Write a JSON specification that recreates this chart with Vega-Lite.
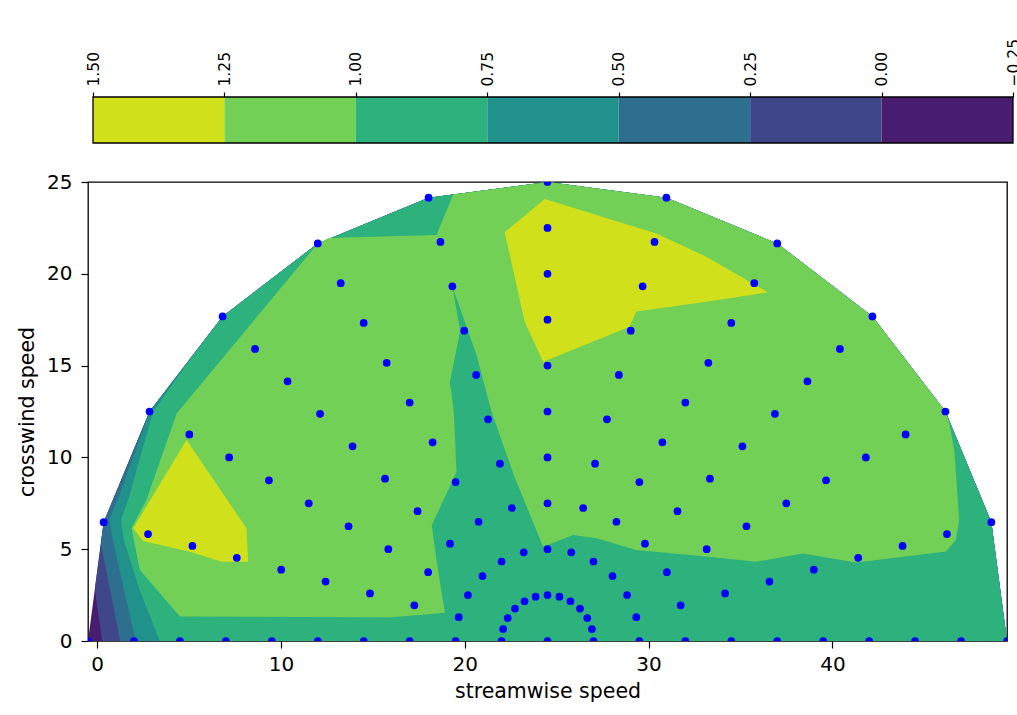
{
  "$schema": "https://vega.github.io/schema/vega-lite/v6.json",
  "padding": {"top": 38, "left": 16, "right": 0, "bottom": 0},
  "spacing": 27,
  "config": {
    "view": {"stroke": null},
    "font": "DejaVu Sans",
    "axis": {"labelFont": "DejaVu Sans", "titleFont": "DejaVu Sans", "labelColor": "black", "titleColor": "black", "tickColor": "black", "domainColor": "black", "titleFontWeight": "normal", "grid": false, "labelFlush": false, "labelOverlap": false}
  },
  "datasets": {
    "cbar": [
      {"lo": 1.25, "hi": 1.5}, {"lo": 1.0, "hi": 1.25}, {"lo": 0.75, "hi": 1.0}, {"lo": 0.5, "hi": 0.75},
      {"lo": 0.25, "hi": 0.5}, {"lo": 0.0, "hi": 0.25}, {"lo": -0.25, "hi": 0.0}
    ],
    "poly": [
      {"l": -0.25, "p": "a", "i": 0, "x": 49.5, "y": 0}, {"l": -0.25, "p": "a", "i": 1, "x": 48.648, "y": 6.47}, {"l": -0.25, "p": "a", "i": 2, "x": 46.151, "y": 12.5}, {"l": -0.25, "p": "a", "i": 3, "x": 42.178, "y": 17.678}, {"l": -0.25, "p": "a", "i": 4, "x": 37, "y": 21.651}, {"l": -0.25, "p": "a", "i": 5, "x": 30.97, "y": 24.148}, {"l": -0.25, "p": "a", "i": 6, "x": 24.5, "y": 25}, {"l": -0.25, "p": "a", "i": 7, "x": 18.03, "y": 24.148}, {"l": -0.25, "p": "a", "i": 8, "x": 12, "y": 21.651}, {"l": -0.25, "p": "a", "i": 9, "x": 6.822, "y": 17.678}, {"l": -0.25, "p": "a", "i": 10, "x": 2.849, "y": 12.5}, {"l": -0.25, "p": "a", "i": 11, "x": 0.352, "y": 6.47}, {"l": -0.25, "p": "a", "i": 12, "x": -0.5, "y": 0},

      {"l": 0, "p": "a", "i": 0, "x": 0.27, "y": 0}, {"l": 0, "p": "a", "i": 1, "x": 49.5, "y": 0}, {"l": 0, "p": "a", "i": 2, "x": 48.648, "y": 6.47}, {"l": 0, "p": "a", "i": 3, "x": 46.151, "y": 12.5}, {"l": 0, "p": "a", "i": 4, "x": 42.178, "y": 17.678}, {"l": 0, "p": "a", "i": 5, "x": 37, "y": 21.651}, {"l": 0, "p": "a", "i": 6, "x": 30.97, "y": 24.148}, {"l": 0, "p": "a", "i": 7, "x": 24.5, "y": 25}, {"l": 0, "p": "a", "i": 8, "x": 18.03, "y": 24.148}, {"l": 0, "p": "a", "i": 9, "x": 12, "y": 21.651}, {"l": 0, "p": "a", "i": 10, "x": 6.822, "y": 17.678}, {"l": 0, "p": "a", "i": 11, "x": 2.849, "y": 12.5}, {"l": 0, "p": "a", "i": 12, "x": 0.352, "y": 6.47}, {"l": 0, "p": "a", "i": 13, "x": -0.13, "y": 2.8},

      {"l": 0.25, "p": "a", "i": 0, "x": 1.25, "y": 0}, {"l": 0.25, "p": "a", "i": 1, "x": 49.5, "y": 0}, {"l": 0.25, "p": "a", "i": 2, "x": 48.648, "y": 6.47}, {"l": 0.25, "p": "a", "i": 3, "x": 46.151, "y": 12.5}, {"l": 0.25, "p": "a", "i": 4, "x": 42.178, "y": 17.678}, {"l": 0.25, "p": "a", "i": 5, "x": 37, "y": 21.651}, {"l": 0.25, "p": "a", "i": 6, "x": 30.97, "y": 24.148}, {"l": 0.25, "p": "a", "i": 7, "x": 24.5, "y": 25}, {"l": 0.25, "p": "a", "i": 8, "x": 18.03, "y": 24.148}, {"l": 0.25, "p": "a", "i": 9, "x": 12, "y": 21.651}, {"l": 0.25, "p": "a", "i": 10, "x": 6.822, "y": 17.678}, {"l": 0.25, "p": "a", "i": 11, "x": 2.849, "y": 12.5}, {"l": 0.25, "p": "a", "i": 12, "x": 0.352, "y": 6.47}, {"l": 0.25, "p": "a", "i": 13, "x": 0.2, "y": 5.3}, {"l": 0.25, "p": "a", "i": 14, "x": 0.7, "y": 2.8},

      {"l": 0.5, "p": "a", "i": 0, "x": 2.1, "y": 0}, {"l": 0.5, "p": "a", "i": 1, "x": 49.5, "y": 0}, {"l": 0.5, "p": "a", "i": 2, "x": 48.648, "y": 6.47}, {"l": 0.5, "p": "a", "i": 3, "x": 46.151, "y": 12.5}, {"l": 0.5, "p": "a", "i": 4, "x": 42.178, "y": 17.678}, {"l": 0.5, "p": "a", "i": 5, "x": 37, "y": 21.651}, {"l": 0.5, "p": "a", "i": 6, "x": 30.97, "y": 24.148}, {"l": 0.5, "p": "a", "i": 7, "x": 24.5, "y": 25}, {"l": 0.5, "p": "a", "i": 8, "x": 18.03, "y": 24.148}, {"l": 0.5, "p": "a", "i": 9, "x": 12, "y": 21.651}, {"l": 0.5, "p": "a", "i": 10, "x": 6.822, "y": 17.678}, {"l": 0.5, "p": "a", "i": 11, "x": 2.849, "y": 12.5}, {"l": 0.5, "p": "a", "i": 12, "x": 1.1, "y": 7.7}, {"l": 0.5, "p": "a", "i": 13, "x": 0.65, "y": 6.6}, {"l": 0.5, "p": "a", "i": 14, "x": 0.85, "y": 5.5}, {"l": 0.5, "p": "a", "i": 15, "x": 1.45, "y": 2.8},

      {"l": 0.75, "p": "a", "i": 0, "x": 3.4, "y": 0}, {"l": 0.75, "p": "a", "i": 1, "x": 49.5, "y": 0}, {"l": 0.75, "p": "a", "i": 2, "x": 48.648, "y": 6.47}, {"l": 0.75, "p": "a", "i": 3, "x": 46.151, "y": 12.5}, {"l": 0.75, "p": "a", "i": 4, "x": 42.178, "y": 17.678}, {"l": 0.75, "p": "a", "i": 5, "x": 37, "y": 21.651}, {"l": 0.75, "p": "a", "i": 6, "x": 30.97, "y": 24.148}, {"l": 0.75, "p": "a", "i": 7, "x": 24.5, "y": 25}, {"l": 0.75, "p": "a", "i": 8, "x": 18.03, "y": 24.148}, {"l": 0.75, "p": "a", "i": 9, "x": 12, "y": 21.651}, {"l": 0.75, "p": "a", "i": 10, "x": 6.822, "y": 17.678}, {"l": 0.75, "p": "a", "i": 11, "x": 4.77, "y": 14.94}, {"l": 0.75, "p": "a", "i": 12, "x": 3.04, "y": 12.49}, {"l": 0.75, "p": "a", "i": 13, "x": 1.68, "y": 7.68}, {"l": 0.75, "p": "a", "i": 14, "x": 1.3, "y": 6.6}, {"l": 0.75, "p": "a", "i": 15, "x": 1.45, "y": 5.5}, {"l": 0.75, "p": "a", "i": 16, "x": 2.3, "y": 2.8},

      {"l": 1, "p": "a", "i": 0, "x": 12, "y": 21.651}, {"l": 1, "p": "a", "i": 1, "x": 12.6, "y": 21.95}, {"l": 1, "p": "a", "i": 2, "x": 18.46, "y": 22.11}, {"l": 1, "p": "a", "i": 3, "x": 19.37, "y": 24.324}, {"l": 1, "p": "a", "i": 4, "x": 24.5, "y": 25}, {"l": 1, "p": "a", "i": 5, "x": 30.97, "y": 24.148}, {"l": 1, "p": "a", "i": 6, "x": 37, "y": 21.651}, {"l": 1, "p": "a", "i": 7, "x": 42.178, "y": 17.678}, {"l": 1, "p": "a", "i": 8, "x": 46.151, "y": 12.5}, {"l": 1, "p": "a", "i": 9, "x": 46.36, "y": 11.86}, {"l": 1, "p": "a", "i": 10, "x": 46.63, "y": 10.4}, {"l": 1, "p": "a", "i": 11, "x": 46.9, "y": 6.6}, {"l": 1, "p": "a", "i": 12, "x": 46.72, "y": 5.5}, {"l": 1, "p": "a", "i": 13, "x": 46.18, "y": 4.87}, {"l": 1, "p": "a", "i": 14, "x": 41.29, "y": 4.27}, {"l": 1, "p": "a", "i": 15, "x": 38.39, "y": 4.77}, {"l": 1, "p": "a", "i": 16, "x": 35.85, "y": 4.32}, {"l": 1, "p": "a", "i": 17, "x": 33.14, "y": 4.6}, {"l": 1, "p": "a", "i": 18, "x": 29.33, "y": 4.96}, {"l": 1, "p": "a", "i": 19, "x": 27.16, "y": 5.59}, {"l": 1, "p": "a", "i": 20, "x": 25.89, "y": 5.77}, {"l": 1, "p": "a", "i": 21, "x": 24.26, "y": 5.14}, {"l": 1, "p": "a", "i": 22, "x": 22.7, "y": 8.95}, {"l": 1, "p": "a", "i": 23, "x": 21.45, "y": 12.5}, {"l": 1, "p": "a", "i": 24, "x": 20.64, "y": 15.58}, {"l": 1, "p": "a", "i": 25, "x": 19.32, "y": 19.32}, {"l": 1, "p": "a", "i": 26, "x": 19.75, "y": 16.9}, {"l": 1, "p": "a", "i": 27, "x": 19.19, "y": 14.12}, {"l": 1, "p": "a", "i": 28, "x": 19.4, "y": 12.5}, {"l": 1, "p": "a", "i": 29, "x": 19.55, "y": 9.2}, {"l": 1, "p": "a", "i": 30, "x": 18.2, "y": 6.3}, {"l": 1, "p": "a", "i": 31, "x": 18.46, "y": 4.41}, {"l": 1, "p": "a", "i": 32, "x": 18.91, "y": 1.54}, {"l": 1, "p": "a", "i": 33, "x": 16, "y": 1.3}, {"l": 1, "p": "a", "i": 34, "x": 4.5, "y": 1.33}, {"l": 1, "p": "a", "i": 35, "x": 2.32, "y": 3.87}, {"l": 1, "p": "a", "i": 36, "x": 1.87, "y": 6.14}, {"l": 1, "p": "a", "i": 37, "x": 2.68, "y": 7.68}, {"l": 1, "p": "a", "i": 38, "x": 4.33, "y": 12.4},

      {"l": 1.25, "p": "a", "i": 0, "x": 4.86, "y": 10.95}, {"l": 1.25, "p": "a", "i": 1, "x": 1.96, "y": 6.14}, {"l": 1.25, "p": "a", "i": 2, "x": 2.5, "y": 5.45}, {"l": 1.25, "p": "a", "i": 3, "x": 5.1, "y": 4.85}, {"l": 1.25, "p": "a", "i": 4, "x": 6.76, "y": 4.32}, {"l": 1.25, "p": "a", "i": 5, "x": 8.21, "y": 4.32}, {"l": 1.25, "p": "a", "i": 6, "x": 8.12, "y": 6.14},
      {"l": 1.25, "p": "b", "i": 0, "x": 24.35, "y": 24.07}, {"l": 1.25, "p": "b", "i": 1, "x": 30.42, "y": 22.2}, {"l": 1.25, "p": "b", "i": 2, "x": 33.14, "y": 20.93}, {"l": 1.25, "p": "b", "i": 3, "x": 36.49, "y": 18.99}, {"l": 1.25, "p": "b", "i": 4, "x": 33.14, "y": 18.48}, {"l": 1.25, "p": "b", "i": 5, "x": 29.33, "y": 17.94}, {"l": 1.25, "p": "b", "i": 6, "x": 28.97, "y": 17.12}, {"l": 1.25, "p": "b", "i": 7, "x": 24.26, "y": 15.21}, {"l": 1.25, "p": "b", "i": 8, "x": 23.26, "y": 17.39}, {"l": 1.25, "p": "b", "i": 9, "x": 22.17, "y": 22.26}
    ],
    "pts": [
      {"x": 24.5, "y": 0},
      {"x": 27, "y": 0}, {"x": 26.915, "y": 0.647}, {"x": 26.665, "y": 1.25}, {"x": 26.268, "y": 1.768}, {"x": 25.75, "y": 2.165}, {"x": 25.147, "y": 2.415}, {"x": 24.5, "y": 2.5}, {"x": 23.853, "y": 2.415}, {"x": 23.25, "y": 2.165}, {"x": 22.732, "y": 1.768}, {"x": 22.335, "y": 1.25}, {"x": 22.085, "y": 0.647}, {"x": 22, "y": 0},
      {"x": 29.5, "y": 0}, {"x": 29.33, "y": 1.294}, {"x": 28.83, "y": 2.5}, {"x": 28.036, "y": 3.536}, {"x": 27, "y": 4.33}, {"x": 25.794, "y": 4.83}, {"x": 24.5, "y": 5}, {"x": 23.206, "y": 4.83}, {"x": 22, "y": 4.33}, {"x": 20.964, "y": 3.536}, {"x": 20.17, "y": 2.5}, {"x": 19.67, "y": 1.294}, {"x": 19.5, "y": 0},
      {"x": 32, "y": 0}, {"x": 31.744, "y": 1.941}, {"x": 30.995, "y": 3.75}, {"x": 29.803, "y": 5.303}, {"x": 28.25, "y": 6.495}, {"x": 26.441, "y": 7.244}, {"x": 24.5, "y": 7.5}, {"x": 22.559, "y": 7.244}, {"x": 20.75, "y": 6.495}, {"x": 19.197, "y": 5.303}, {"x": 18.005, "y": 3.75}, {"x": 17.256, "y": 1.941}, {"x": 17, "y": 0},
      {"x": 34.5, "y": 0}, {"x": 34.159, "y": 2.588}, {"x": 33.16, "y": 5}, {"x": 31.571, "y": 7.071}, {"x": 29.5, "y": 8.66}, {"x": 27.088, "y": 9.659}, {"x": 24.5, "y": 10}, {"x": 21.912, "y": 9.659}, {"x": 19.5, "y": 8.66}, {"x": 17.429, "y": 7.071}, {"x": 15.84, "y": 5}, {"x": 14.841, "y": 2.588}, {"x": 14.5, "y": 0},
      {"x": 37, "y": 0}, {"x": 36.574, "y": 3.235}, {"x": 35.325, "y": 6.25}, {"x": 33.339, "y": 8.839}, {"x": 30.75, "y": 10.825}, {"x": 27.735, "y": 12.074}, {"x": 24.5, "y": 12.5}, {"x": 21.265, "y": 12.074}, {"x": 18.25, "y": 10.825}, {"x": 15.661, "y": 8.839}, {"x": 13.675, "y": 6.25}, {"x": 12.426, "y": 3.235}, {"x": 12, "y": 0},
      {"x": 39.5, "y": 0}, {"x": 38.989, "y": 3.882}, {"x": 37.49, "y": 7.5}, {"x": 35.107, "y": 10.607}, {"x": 32, "y": 12.99}, {"x": 28.382, "y": 14.489}, {"x": 24.5, "y": 15}, {"x": 20.618, "y": 14.489}, {"x": 17, "y": 12.99}, {"x": 13.893, "y": 10.607}, {"x": 11.51, "y": 7.5}, {"x": 10.011, "y": 3.882}, {"x": 9.5, "y": 0},
      {"x": 42, "y": 0}, {"x": 41.404, "y": 4.529}, {"x": 39.655, "y": 8.75}, {"x": 36.874, "y": 12.374}, {"x": 33.25, "y": 15.155}, {"x": 29.029, "y": 16.904}, {"x": 24.5, "y": 17.5}, {"x": 19.971, "y": 16.904}, {"x": 15.75, "y": 15.155}, {"x": 12.126, "y": 12.374}, {"x": 9.345, "y": 8.75}, {"x": 7.596, "y": 4.529}, {"x": 7, "y": 0},
      {"x": 44.5, "y": 0}, {"x": 43.819, "y": 5.176}, {"x": 41.821, "y": 10}, {"x": 38.642, "y": 14.142}, {"x": 34.5, "y": 17.321}, {"x": 29.676, "y": 19.319}, {"x": 24.5, "y": 20}, {"x": 19.324, "y": 19.319}, {"x": 14.5, "y": 17.321}, {"x": 10.358, "y": 14.142}, {"x": 7.179, "y": 10}, {"x": 5.181, "y": 5.176}, {"x": 4.5, "y": 0},
      {"x": 47, "y": 0}, {"x": 46.233, "y": 5.823}, {"x": 43.986, "y": 11.25}, {"x": 40.41, "y": 15.91}, {"x": 35.75, "y": 19.486}, {"x": 30.323, "y": 21.733}, {"x": 24.5, "y": 22.5}, {"x": 18.677, "y": 21.733}, {"x": 13.25, "y": 19.486}, {"x": 8.59, "y": 15.91}, {"x": 5.014, "y": 11.25}, {"x": 2.767, "y": 5.823}, {"x": 2, "y": 0},
      {"x": 49.5, "y": 0}, {"x": 48.648, "y": 6.47}, {"x": 46.151, "y": 12.5}, {"x": 42.178, "y": 17.678}, {"x": 37, "y": 21.651}, {"x": 30.97, "y": 24.148}, {"x": 24.5, "y": 25}, {"x": 18.03, "y": 24.148}, {"x": 12, "y": 21.651}, {"x": 6.822, "y": 17.678}, {"x": 2.849, "y": 12.5}, {"x": 0.352, "y": 6.47}, {"x": -0.5, "y": 0}
    ]
  },
  "vconcat": [
    {
      "width": 925,
      "height": 46,
      "layer": [
        {
          "data": {"name": "cbar"},
          "mark": {"type": "rect"},
          "encoding": {
            "x": {"field": "hi", "type": "quantitative", "title": null,
                  "scale": {"domain": [1.5, -0.25], "range": [5, 925], "nice": false, "zero": false},
                  "axis": {"orient": "top", "values": [1.5, 1.25, 1.0, 0.75, 0.5, 0.25, 0.0, -0.25], "format": ".2f",
                           "labelAngle": 270, "labelAlign": "left", "labelBaseline": "middle", "labelFontSize": 15.5,
                           "tickSize": 5, "tickWidth": 1.2, "labelPadding": 6, "domain": false, "title": null}},
            "x2": {"field": "lo"},
            "color": {"field": "lo", "type": "ordinal", "legend": null,
                      "scale": {"domain": [-0.25, 0, 0.25, 0.5, 0.75, 1, 1.25],
                                "range": ["#481c6e", "#3f4788", "#2e6e8e", "#21918c", "#2db27d", "#73d056", "#d0e11c"]}}
          }
        },
        {
          "data": {"values": [{"a": 1.5, "b": -0.25}]},
          "mark": {"type": "rect", "fill": null, "stroke": "black", "strokeWidth": 1.3},
          "encoding": {
            "x": {"field": "a", "type": "quantitative", "title": null},
            "x2": {"field": "b"}
          }
        }
      ]
    },
    {
      "width": 919,
      "height": 459,
      "view": {"stroke": "black", "strokeWidth": 1.3},
      "encoding": {
        "x": {"field": "x", "type": "quantitative", "title": "streamwise speed",
              "scale": {"domain": [-0.5, 49.5], "nice": false, "zero": false},
              "axis": {"values": [0, 10, 20, 30, 40], "labelFontSize": 20, "titleFontSize": 20.5, "tickSize": 7, "tickWidth": 1.2, "labelPadding": 6, "titlePadding": 7, "domain": false}},
        "y": {"field": "y", "type": "quantitative", "title": "crosswind speed",
              "scale": {"domain": [0, 25], "nice": false, "zero": false},
              "axis": {"values": [0, 5, 10, 15, 20, 25], "labelFontSize": 20, "titleFontSize": 20.5, "tickSize": 7, "tickWidth": 1.2, "labelPadding": 9, "titlePadding": 9, "domain": false}}
      },
      "layer": [
        {"data": {"name": "poly"}, "transform": [{"filter": "datum.l == -0.25"}], "mark": {"type": "line", "filled": true, "color": "#481c6e"}, "encoding": {"order": {"field": "i", "type": "quantitative"}, "detail": {"field": "p"}}},
        {"data": {"name": "poly"}, "transform": [{"filter": "datum.l == 0"}], "mark": {"type": "line", "filled": true, "color": "#3f4788"}, "encoding": {"order": {"field": "i", "type": "quantitative"}, "detail": {"field": "p"}}},
        {"data": {"name": "poly"}, "transform": [{"filter": "datum.l == 0.25"}], "mark": {"type": "line", "filled": true, "color": "#2e6e8e"}, "encoding": {"order": {"field": "i", "type": "quantitative"}, "detail": {"field": "p"}}},
        {"data": {"name": "poly"}, "transform": [{"filter": "datum.l == 0.5"}], "mark": {"type": "line", "filled": true, "color": "#21918c"}, "encoding": {"order": {"field": "i", "type": "quantitative"}, "detail": {"field": "p"}}},
        {"data": {"name": "poly"}, "transform": [{"filter": "datum.l == 0.75"}], "mark": {"type": "line", "filled": true, "color": "#2db27d"}, "encoding": {"order": {"field": "i", "type": "quantitative"}, "detail": {"field": "p"}}},
        {"data": {"name": "poly"}, "transform": [{"filter": "datum.l == 1"}], "mark": {"type": "line", "filled": true, "color": "#73d056"}, "encoding": {"order": {"field": "i", "type": "quantitative"}, "detail": {"field": "p"}}},
        {"data": {"name": "poly"}, "transform": [{"filter": "datum.l == 1.25"}], "mark": {"type": "line", "filled": true, "color": "#d0e11c"}, "encoding": {"order": {"field": "i", "type": "quantitative"}, "detail": {"field": "p"}}},
        {"data": {"name": "pts"}, "mark": {"type": "point", "filled": true, "color": "#0000ff", "size": 60, "opacity": 1, "clip": true}}
      ]
    }
  ]
}
